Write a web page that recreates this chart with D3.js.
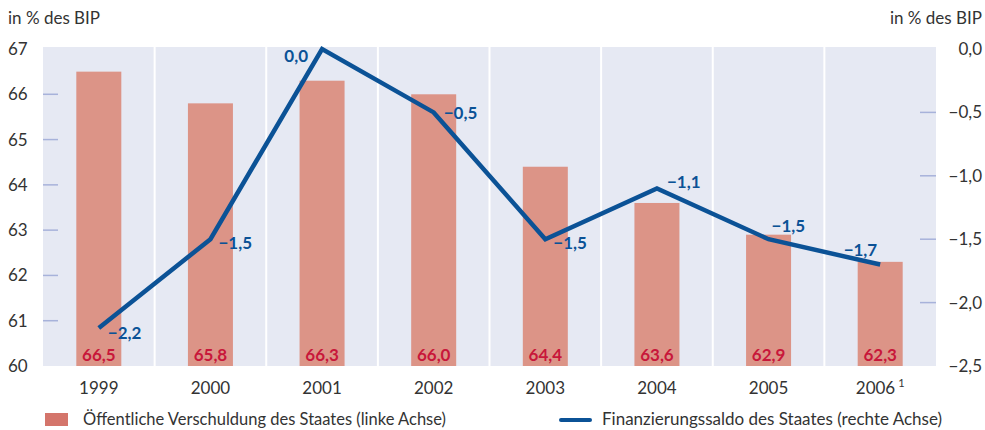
<!DOCTYPE html>
<html>
<head>
<meta charset="utf-8">
<script src="https://cdn.jsdelivr.net/npm/d3@7"></script>
<style>
  body { margin: 0; background: #fff; }
  svg { display: block; font-family: Lato, "Open Sans", sans-serif; }
</style>
</head>
<body>
<script>
// data
var years = ["1999", "2000", "2001", "2002", "2003", "2004", "2005", "2006"];
var footnotes = ["", "", "", "", "", "", "", "1"];
var debt = [66.5, 65.8, 66.3, 66.0, 64.4, 63.6, 62.9, 62.3];
var balance = [-2.2, -1.5, 0.0, -0.5, -1.5, -1.1, -1.5, -1.7];
var leftTicks = [60, 61, 62, 63, 64, 65, 66, 67];
var rightTicks = [0, -0.5, -1.0, -1.5, -2.0, -2.5];
var legendLabels = ["Öffentliche Verschuldung des Staates (linke Achse)", "Finanzierungssaldo des Staates (rechte Achse)"];
// label offsets for the line values [dx, dy]
var lineLabelPos = [[9, 11], [8, 10], [-14, 13], [10, 7], [8, 10], [10, 0], [3, -7], [-3, -9]];

var W = 985, H = 430;
var m = { left: 43, right: 49, top: 47, bottom: 64 };
var innerW = W - m.left - m.right, innerH = H - m.top - m.bottom;

var barColor = "#dc9487", lineColor = "#0b5296", bg = "#e6e9f3", tickColor = "#a7b2da";
var textColor = "#333", redText = "#c8173a";

var svg = d3.select("body").append("svg").attr("width", W).attr("height", H);
var g = svg.append("g").attr("transform", "translate(" + m.left + "," + m.top + ")");

var x = d3.scaleBand().domain(years).range([0, innerW]);
var yL = d3.scaleLinear().domain([60, 67]).range([innerH, 2]);
var yR = d3.scaleLinear().domain([-2.5, 0]).range([innerH, 2]);

// background
g.append("rect").attr("width", innerW).attr("height", innerH).attr("fill", bg);

// vertical separators
g.selectAll(".sep").data(years.slice(1)).enter().append("line")
  .attr("class", "sep")
  .attr("x1", function(d) { return x(d); })
  .attr("x2", function(d) { return x(d); })
  .attr("y1", 0).attr("y2", innerH)
  .attr("stroke", "#fff").attr("stroke-width", 2);

// ticks inside plot
g.selectAll(".ltick").data(leftTicks.slice(1, -1)).enter().append("line")
  .attr("x1", 0).attr("x2", 15)
  .attr("y1", function(d) { return yL(d); })
  .attr("y2", function(d) { return yL(d); })
  .attr("stroke", tickColor).attr("stroke-width", 1.5);
g.selectAll(".rtick").data(rightTicks.slice(1, -1)).enter().append("line")
  .attr("x1", innerW - 16).attr("x2", innerW)
  .attr("y1", function(d) { return yR(d); })
  .attr("y2", function(d) { return yR(d); })
  .attr("stroke", tickColor).attr("stroke-width", 1.5);

// bars
var bw = 45;
g.selectAll(".bar").data(debt).enter().append("rect")
  .attr("class", "bar")
  .attr("x", function(d, i) { return x(years[i]) + x.bandwidth() / 2 - bw / 2; })
  .attr("width", bw)
  .attr("y", function(d) { return yL(d); })
  .attr("height", function(d) { return innerH - yL(d); })
  .attr("fill", barColor);

// bar labels
g.selectAll(".blabel").data(debt).enter().append("text")
  .attr("x", function(d, i) { return x(years[i]) + x.bandwidth() / 2; })
  .attr("y", innerH - 5)
  .attr("text-anchor", "middle")
  .attr("font-size", 17).attr("font-weight", "bold")
  .attr("fill", redText)
  .text(function(d) { return d3.format(".1f")(d).replace(".", ","); });

// line
var line = d3.line()
  .x(function(d, i) { return x(years[i]) + x.bandwidth() / 2; })
  .y(function(d) { return yR(d); });
g.append("path").datum(balance)
  .attr("d", line)
  .attr("fill", "none").attr("stroke", lineColor)
  .attr("stroke-width", 4.5).attr("stroke-linejoin", "miter");

// line labels
function fmt(v) {
  var s = d3.format(".1f")(Math.abs(v)).replace(".", ",");
  return (v < 0 ? "\u2212" : "") + s;
}
g.selectAll(".llabel").data(balance).enter().append("text")
  .attr("x", function(d, i) { return x(years[i]) + x.bandwidth() / 2 + lineLabelPos[i][0]; })
  .attr("y", function(d, i) { return yR(d) + lineLabelPos[i][1]; })
  .attr("text-anchor", function(d, i) { return lineLabelPos[i][0] < 0 ? "end" : "start"; })
  .attr("font-size", 17).attr("font-weight", "bold")
  .attr("fill", lineColor)
  .text(function(d) { return fmt(d); });

// left axis labels
svg.selectAll(".ll").data(leftTicks).enter().append("text")
  .attr("x", 8)
  .attr("y", function(d) { return m.top + yL(d) + 6; })
  .attr("font-size", 17).attr("fill", textColor)
  .text(function(d) { return d; });

// right axis labels
svg.selectAll(".rl").data(rightTicks).enter().append("text")
  .attr("x", 982)
  .attr("y", function(d) { return m.top + yR(d) + 6; })
  .attr("text-anchor", "end")
  .attr("font-size", 17).attr("fill", textColor)
  .text(function(d) { return fmt(d); });

// axis titles
svg.append("text").attr("x", 8).attr("y", 24).attr("font-size", 17).attr("fill", textColor).text("in % des BIP");
svg.append("text").attr("x", 982).attr("y", 24).attr("text-anchor", "end").attr("font-size", 17).attr("fill", textColor).text("in % des BIP");

// category labels
var cat = svg.selectAll(".cat").data(years).enter().append("text")
  .attr("x", function(d) { return m.left + x(d) + x.bandwidth() / 2; })
  .attr("y", 394)
  .attr("text-anchor", "middle")
  .attr("font-size", 17).attr("fill", textColor);
cat.append("tspan").text(function(d) { return d; });
cat.append("tspan")
  .attr("font-size", 11).attr("dx", 3).attr("dy", -7)
  .text(function(d, i) { return footnotes[i]; });

// legend
svg.append("rect").attr("x", 45).attr("y", 413).attr("width", 23).attr("height", 13).attr("fill", "#d4756b");
svg.append("text").attr("x", 83).attr("y", 425).attr("font-size", 16.5).attr("fill", textColor).text(legendLabels[0]);
svg.append("line").attr("x1", 561).attr("x2", 590).attr("y1", 420).attr("y2", 420)
  .attr("stroke", lineColor).attr("stroke-width", 4).attr("stroke-linecap", "round");
svg.append("text").attr("x", 602).attr("y", 425).attr("font-size", 17).attr("fill", textColor).text(legendLabels[1]);
</script>
</body>
</html>
